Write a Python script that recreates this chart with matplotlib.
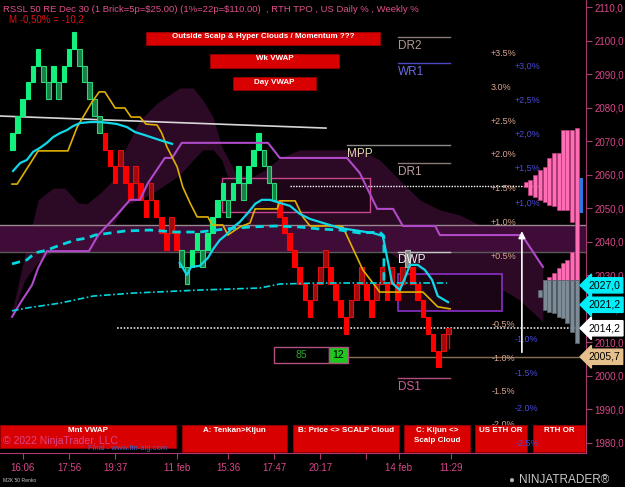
import matplotlib.pyplot as plt
from matplotlib.patches import Rectangle
from matplotlib.transforms import blended_transform_factory

plt.rcParams['font.family'] = ['Liberation Sans', 'DejaVu Sans']
plt.rcParams['text.parse_math'] = False

W, H = 625, 487

# renko bricks, 5 points each: low of every brick and its colour kind
# G up brick, g pullback brick in up move, R down brick, r pullback in down move, x marked brick
brick_low = [
    2067.5, 2072.5, 2077.5, 2082.5, 2087.5, 2092.5,
    2087.5, 2082.5, 2087.5, 2082.5, 2087.5, 2092.5, 2097.5,
    2092.5, 2087.5, 2082.5, 2077.5, 2072.5,
    2067.5, 2062.5, 2057.5, 2062.5, 2057.5, 2052.5, 2057.5, 2052.5, 2047.5, 2052.5,
    2047.5, 2042.5, 2037.5, 2042.5, 2037.5,
    2032.5, 2027.5, 2032.5, 2037.5, 2032.5, 2037.5, 2042.5, 2047.5, 2052.5, 2047.5,
    2052.5, 2057.5, 2052.5, 2057.5, 2062.5, 2067.5, 2062.5, 2057.5, 2052.5,
    2047.5, 2042.5, 2037.5, 2032.5, 2027.5, 2022.5, 2017.5, 2022.5, 2027.5, 2032.5,
    2027.5, 2022.5, 2017.5, 2012.5, 2017.5, 2022.5, 2027.5, 2022.5, 2017.5, 2022.5,
    2027.5, 2022.5, 2027.5, 2022.5, 2027.5, 2032.5, 2027.5, 2022.5, 2017.5, 2012.5,
    2007.5, 2002.5, 2007.5,
]
brick_kind = ("GGGGGG" "ggGgGGG" "ggggg" "RRRrRRrRRrRRRrR" "ggGGgGGGGgGGgGGGggg"
              "RRRRRRR" "rrrRRRRrrrRRrrRrRrxRRRRRRr")
last_open, last_close, last_low = 2012.5, 2014.2, 2008.2

# indicator lines (x = brick number, y = price)
cyan1_x = [1.1, 2.5, 3.8, 5.0, 6.35, 7.7, 8.9, 10.25, 11.6, 12.8, 14.15, 16.1, 18.05, 20.0, 21.4, 23.3, 24.9, 26.8, 29.75, 32.1]
cyan1_y = [2061.1, 2063.5, 2064.4, 2066.8, 2068.0, 2069.5, 2071.2, 2072.4, 2073.3, 2074.5, 2075.4, 2075.7, 2075.7, 2075.4, 2075.1, 2074.2, 2072.7, 2071.8, 2070.3, 2069.2]
cyan2_x = [33.6, 35.0, 35.8, 37.5, 39.1, 40.1, 41.4, 42.6, 43.8, 45.3, 46.9, 48.3, 49.6, 51.2, 53.1, 55.1, 57.0, 59.0, 60.9, 64.8, 68.7, 71.3, 73.2, 75.0, 76.5, 77.5, 78.5, 80.0, 81.4, 82.8, 83.9, 85.9]
cyan2_y = [2033.7, 2030.1, 2032.5, 2032.8, 2035.2, 2037.8, 2040.5, 2042.0, 2044.1, 2045.9, 2048.6, 2051.3, 2052.5, 2052.5, 2051.6, 2050.7, 2048.3, 2046.8, 2045.9, 2044.1, 2043.2, 2042.6, 2041.7, 2027.7, 2025.6, 2029.2, 2033.1, 2033.1, 2031.6, 2028.6, 2023.8, 2022.0]
wkvwap_x = [0.9, 3.8, 5.4, 7.7, 10.25, 13.2, 15.5, 17.1, 20.0, 22.9, 27.8, 32.7, 37.5, 42.4, 47.3, 52.2, 57.0, 60.9, 64.8, 68.7, 72.6, 73.4, 73.4]
wkvwap_y = [2033.4, 2034.6, 2036.7, 2037.5, 2039.0, 2040.5, 2041.1, 2042.0, 2042.6, 2043.2, 2043.5, 2042.9, 2042.9, 2043.8, 2044.4, 2044.7, 2044.4, 2043.8, 2043.5, 2042.6, 2042.9, 2041.7, 2027.7]
mntvwap_x = [0.9, 4.0, 10.25, 16.7, 24.5, 37.5, 49.2, 53.1, 60.9, 85.7]
mntvwap_y = [2019.4, 2020.3, 2021.7, 2023.8, 2024.7, 2025.6, 2026.2, 2027.4, 2027.7, 2027.7]
yellow_x = [0.9, 1.9, 6.0, 11.8, 13.6, 16.5, 17.9, 19.0, 21.0, 22.9, 24.1, 25.85, 27.0, 29.2, 30.1, 31.1, 31.7, 33.1, 34.2, 35.6, 37.0, 39.1, 39.9, 42.0, 43.0, 44.4, 45.3, 47.3, 48.3, 52.6, 53.1, 56.1, 57.6, 59.0, 64.8, 65.4, 69.3, 72.6, 81.0, 83.9, 86.3]
yellow_y = [2057.2, 2057.2, 2067.1, 2067.1, 2074.2, 2081.7, 2084.7, 2084.7, 2079.9, 2079.9, 2077.2, 2077.2, 2075.1, 2074.8, 2072.4, 2068.3, 2066.5, 2062.3, 2056.3, 2051.6, 2047.4, 2047.4, 2045.0, 2045.0, 2042.0, 2043.5, 2044.4, 2045.6, 2049.8, 2049.8, 2052.2, 2052.2, 2047.4, 2044.7, 2044.7, 2044.4, 2031.6, 2025.0, 2025.0, 2020.6, 2020.0]
kijun_x = [0.9, 2.5, 4.8, 6.0, 7.7, 15.9, 17.7, 21.0, 23.9, 25.85, 27.4, 30.7, 32.1, 34.0, 50.8, 53.1, 66.2, 68.7, 72.1, 75.2, 77.1, 83.4, 84.3, 100.3, 104.4]
kijun_y = [2017.6, 2021.7, 2027.1, 2032.2, 2037.2, 2037.2, 2042.0, 2047.4, 2052.5, 2052.5, 2057.5, 2065.0, 2065.0, 2069.5, 2069.5, 2065.0, 2065.0, 2060.5, 2049.8, 2049.8, 2044.7, 2044.7, 2042.0, 2042.0, 2032.5]
trend_x = [-1.44, 62.1]
trend_y = [2077.5, 2073.9]

# ichimoku style cloud
cloud_x = [0.9, 3.4, 6.0, 8.9, 11.2, 13.8, 15.5, 18.05, 20.6, 22.9, 25.85, 29.2, 33.6, 36.2, 38.1, 40.1, 41.8, 44.4, 47.3, 50.2, 53.1, 57.0, 62.9, 68.7, 72.6, 76.5, 80.4, 84.3, 88.2, 92.1, 96.0, 99.9, 104.4]
cloud_top = [2019.1, 2036.1, 2052.5, 2056.0, 2056.0, 2051.6, 2051.3, 2054.5, 2058.4, 2067.4, 2076.3, 2081.4, 2085.9, 2085.9, 2082.3, 2077.2, 2068.3, 2060.8, 2059.0, 2061.4, 2065.0, 2067.4, 2067.4, 2067.4, 2064.4, 2058.4, 2052.5, 2049.5, 2048.0, 2045.0, 2042.9, 2042.9, 2032.5]
cloud_bot = [2017.6, 2028.6, 2034.0, 2037.2, 2037.2, 2037.2, 2037.2, 2039.0, 2045.0, 2051.0, 2052.5, 2055.4, 2059.9, 2064.4, 2067.4, 2067.4, 2064.4, 2052.5, 2045.0, 2042.9, 2042.9, 2042.9, 2042.9, 2042.0, 2039.0, 2034.6, 2031.6, 2027.1, 2024.7, 2025.0, 2026.2, 2022.6, 2016.1]

# overnight band and levels
band_low, band_high = 2037.0, 2045.0
current_price = 2014.2
open_level = 2005.7

pivot_names = ['DR2', 'WR1', 'MPP', 'DR1', 'DWP', 'DS1']
pivot_prices = [2101.1, 2093.3, 2068.9, 2063.5, 2037.0, 1999.4]
pivot_start = [76.1, 76.1, 66.2, 76.1, 76.1, 76.1]
pivot_line_colors = ['#8a7a75', '#4a4ac0', '#8a8a8a', '#8a7a75', '#c8c8c8', '#b05080']
pivot_text_colors = ['#b09a90', '#6a6ae0', '#e0d8b0', '#c0a0a0', '#f0f0f0', '#d060a0']

daily_pct = ['+3.5%', '3.0%', '+2.5%', '+2.0%', '+1.5%', '+1.0%', '+0.5%', '-0.5%', '-1.0%', '-1.5%', '-2.0%']
daily_pct_price = [2096.2, 2086.1, 2076.0, 2065.9, 2055.8, 2045.7, 2035.6, 2015.4, 2005.3, 1995.2, 1985.6]
weekly_pct = ['+3,0%', '+2,5%', '+2,0%', '+1,5%', '+1,0%', '-1.0%', '-1.5%', '-2.0%', '-2.5%']
weekly_pct_price = [2092.4, 2082.2, 2072.0, 2061.8, 2051.6, 2010.8, 2000.6, 1990.4, 1980.2]

# TPO profile columns on the right
prof_up_x = [100.7, 101.5, 102.5, 103.4, 104.4, 105.2, 106.2, 107.1, 107.9, 108.7, 109.7, 110.6]
prof_up_top = [2057.8, 2058.4, 2059.9, 2061.4, 2062.3, 2065.0, 2066.5, 2066.5, 2073.3, 2073.3, 2073.3, 2073.9]
prof_up_bot = [2056.3, 2053.9, 2053.4, 2052.5, 2051.9, 2051.0, 2050.7, 2049.5, 2049.5, 2049.5, 2045.9, 2009.8]
prof_lo_x = [103.4, 104.4, 105.2, 106.2, 107.1, 107.9, 108.7, 109.7]
prof_lo_top = [2025.6, 2028.6, 2029.5, 2030.7, 2032.2, 2033.7, 2034.6, 2037.0]
prof_lo_bot = [2023.5, 2019.7, 2019.1, 2018.8, 2017.6, 2017.3, 2015.8, 2013.1]
value_split = 2028.5

tag_labels = ['2027,0', '2021,2', '2014,2', '2005,7']
tag_prices = [2027.0, 2021.2, 2014.2, 2005.7]
tag_colors = ['#00eef8', '#00eef8', '#ffffff', '#e6c08c']

time_pos = [3, 12, 21, 33, 43, 52, 61, 70, 76.3, 86.5]
time_labels = ['16:06', '17:56', '19:37', '11 feb', '15:36', '17:47', '20:17', '', '14 feb', '11:29']

PINK = '#d8478a'
AXIS = '#a83a70'


def fig_rect(fig, x0, y0, x1, y1, **kw):
    fig.add_artist(Rectangle((x0 / W, 1 - y1 / H), (x1 - x0) / W, (y1 - y0) / H,
                             transform=fig.transFigure, **kw))


def fig_text(fig, x, y, s, **kw):
    fig.text(x / W, 1 - y / H, s, **kw)


def main():
    fig = plt.figure(figsize=(W / 100, H / 100), dpi=100, facecolor='black')
    ax = fig.add_axes([0, (H - 453) / H, 586 / W, 453 / H])
    ax.set_facecolor('black')
    ax.set_xlim(-1.44, 112.8)
    ax.set_ylim(1977.0, 2112.1)

    # cloud + band
    ax.fill_between(cloud_x, cloud_bot, cloud_top, color='#2c0925', lw=0, zorder=1)
    ax.axhspan(band_low, band_high, color='#3f0b37', lw=0, zorder=1.5)
    ax.axhline(band_high, color='#9a8890', lw=1, zorder=1.6)
    ax.axhline(band_low, color='#5a5a5a', lw=1, zorder=1.6)

    # boxes
    ax.add_patch(Rectangle((41.8, 2048.9), 28.9, 10.1, fc='#1e0618', ec='#c84890', lw=1, zorder=2))
    ax.add_patch(Rectangle((76.1, 2019.4), 20.3, 11.0, fc='#1a0514', ec='#8a30c8', lw=1.2, zorder=2))

    # level lines
    ax.plot([55.1, 103.8], [2056.6, 2056.6], color='white', lw=1, ls=(0, (1, 1)), zorder=3)
    ax.plot([21.4, 112.8], [current_price, current_price], color='#e0e0e0', lw=1.2, ls=(0, (1, 1)), zorder=3)
    ax.plot([66.4, 112.8], [open_level, open_level], color='#8a7050', lw=1, zorder=3)
    ax.plot(trend_x, trend_y, color='#d8d8d8', lw=1.2, zorder=3)

    for name, p, x0, lc, tc in zip(pivot_names, pivot_prices, pivot_start, pivot_line_colors, pivot_text_colors):
        ax.plot([x0, 86.3], [p, p], color=lc, lw=1, zorder=3)
        ax.text(x0, p - 0.8, name, color=tc, fontsize=8.5, va='top', ha='left', zorder=7)

    # bricks
    styles = {'G': ('#14f07e', '#14f07e'), 'g': ('#1b7d47', '#2fd679'),
              'R': ('#ff0000', '#ff0000'), 'r': ('#a00a0a', '#e01010'),
              'x': ('#8a8a8a', '#b0b0b0')}
    xs = list(range(1, len(brick_low) + 1))
    ax.bar(xs, 5, bottom=brick_low, width=0.9,
           color=[styles[k][0] for k in brick_kind],
           edgecolor=[styles[k][1] for k in brick_kind], lw=0.8, zorder=5)
    nx = len(brick_low) + 1
    ax.plot([nx, nx], [last_low, last_open], color='#d01010', lw=1, zorder=5)
    ax.bar(nx, last_close - last_open, bottom=last_open, width=0.9,
           color='#a00a0a', edgecolor='#e01010', lw=0.8, zorder=5)

    # indicator lines
    ax.plot(kijun_x, kijun_y, color='#b04ac8', lw=1.5, zorder=6)
    ax.plot(yellow_x, yellow_y, color='#e0b000', lw=1.2, zorder=6)
    ax.plot(mntvwap_x, mntvwap_y, color='#00d8e0', lw=1.2, ls=(0, (4, 1.5, 1, 1.5)), zorder=6)
    ax.plot(wkvwap_x, wkvwap_y, color='#00d8e0', lw=2, ls=(0, (3, 2)), zorder=6)
    ax.plot(cyan1_x, cyan1_y, color='#10d8e8', lw=1.6, zorder=6)
    ax.plot(cyan2_x, cyan2_y, color='#10d8e8', lw=1.6, zorder=6)

    # percent levels
    for s, p in zip(daily_pct, daily_pct_price):
        ax.text(94.3, p, s, color='#d9a58f', fontsize=6.5, va='center', ha='left', zorder=7)
    for s, p in zip(weekly_pct[:-1], weekly_pct_price[:-1]):
        ax.text(98.9, p, s, color='#4a4ad8', fontsize=6.5, va='center', ha='left', zorder=7)

    # profile
    for x, t, b in zip(prof_up_x + prof_lo_x, prof_up_top + prof_lo_top, prof_up_bot + prof_lo_bot):
        if t > value_split:
            lo = max(b, value_split)
            ax.bar(x, t - lo, bottom=lo, width=0.82, align='edge', color='#ff6eb4',
                   edgecolor='#c03c80', lw=0.5, zorder=4)
        if b < value_split:
            hi = min(t, value_split)
            ax.bar(x, hi - b, bottom=b, width=0.82, align='edge', color='#7d8b96',
                   edgecolor='#5a6670', lw=0.5, zorder=4)
    ax.bar(111.5, 10.4, bottom=2048.6, width=0.75, align='edge', color='#2a7ae0', zorder=4)

    ax.annotate('', xy=(100.3, 2044.0), xytext=(100.3, 2006.2),
                arrowprops=dict(arrowstyle='-|>', color='white', lw=1.2, mutation_scale=10), zorder=7)

    # 85 | 12 box
    ax.add_patch(Rectangle((52.0, 2003.9), 10.7, 4.7, fc='black', ec='#b05080', lw=1, zorder=7))
    ax.add_patch(Rectangle((62.7, 2003.9), 3.7, 4.7, fc='#1ec81e', ec='#b05080', lw=1, zorder=7))
    ax.text(57.3, 2006.2, '85', color='#2aa52a', fontsize=7.5, ha='center', va='center', zorder=8)
    ax.text(64.55, 2006.2, '12', color='black', fontsize=7.5, ha='center', va='center', zorder=8)

    # axes
    for side in ['top', 'left']:
        ax.spines[side].set_visible(False)
    for side in ['right', 'bottom']:
        ax.spines[side].set_color(AXIS)
    ax.yaxis.tick_right()
    ax.set_yticks(range(1980, 2111, 10))
    ax.set_yticklabels([f'{v},0' for v in range(1980, 2111, 10)])
    ax.tick_params(axis='y', colors=AXIS, labelcolor=PINK, labelsize=7, length=4, pad=2)
    ax.set_xticks(time_pos)
    ax.set_xticklabels(time_labels)
    ax.tick_params(axis='x', colors=AXIS, labelcolor=PINK, labelsize=7, length=4, pad=3)

    tr = blended_transform_factory(ax.transAxes, ax.transData)
    for s, p, c in zip(tag_labels, tag_prices, tag_colors):
        ax.text(1.004, p, s, transform=tr, fontsize=7.5, color='black', ha='left', va='center',
                clip_on=False, zorder=9,
                bbox=dict(boxstyle='larrow,pad=0.25', fc=c, ec=c))

    # banners
    red = '#d80000'
    for x0, y0, x1, y1, s in [(146, 32, 380, 45, 'Outside Scalp & Hyper Clouds / Momentum ???'),
                               (210, 54, 339, 68, 'Wk VWAP'),
                               (233, 77, 316, 90, 'Day VWAP')]:
        fig_rect(fig, x0, y0, x1, y1, fc=red, ec='#a00000', lw=0.5, zorder=10)
        fig_text(fig, (x0 + x1) / 2, y0 + 5, s, color='white', fontsize=5.8, weight='bold',
                 ha='center', va='center', zorder=11)
    for x0, y0, x1, y1, s in [(0, 425, 176, 448, 'Mnt VWAP'),
                               (182, 425, 287, 452, 'A: Tenkan>Kijun'),
                               (293, 425, 399, 452, 'B: Price <> SCALP Cloud'),
                               (404, 425, 470, 452, 'C: Kijun <>\nScalp Cloud'),
                               (475, 425, 527, 452, 'US ETH OR'),
                               (533, 425, 585, 452, 'RTH OR')]:
        fig_rect(fig, x0, y0, x1, y1, fc=red, ec='#a00000', lw=0.5, zorder=10)
        fig_text(fig, (x0 + x1) / 2, y0 + 2, s, color='white', fontsize=5.8, weight='bold',
                 ha='center', va='top', linespacing=1.5, zorder=11)

    fig_text(fig, 3, 441, '\u00a9 2022 NinjaTrader, LLC', color='#d8478a', fontsize=7.5, va='center', zorder=12)
    fig_text(fig, 88, 448, 'Final - www.fin-alg.com', color='#3a6ac8', fontsize=5.5, va='center', zorder=12)
    fig_text(fig, 516, 443, weekly_pct[-1], color='#4a4ad8', fontsize=6.5, va='center', zorder=12)
    fig_text(fig, 3, 9, 'RSSL 50 RE Dec 30 (1 Brick=5p=$25.00) (1%=22p=$110.00)  , RTH TPO , US Daily % , Weekly %',
             color='#e0508c', fontsize=6.8, va='center')
    fig_text(fig, 9, 19, 'M -0,50% = -10,2', color='#e01010', fontsize=7, va='center')
    fig_text(fig, 3, 481, 'M2K 50 Renko', color='#c8c8c8', fontsize=3.6, va='center')
    fig_text(fig, 508, 480, '\u25cf', color='#b0b0b0', fontsize=7, va='center')
    fig_text(fig, 519, 480, 'NINJATRADER\u00ae', color='#c8c8c8', fontsize=8.5, va='center')

    fig.savefig('out.png', dpi=100, facecolor='black')


if __name__ == "__main__":
    main()
